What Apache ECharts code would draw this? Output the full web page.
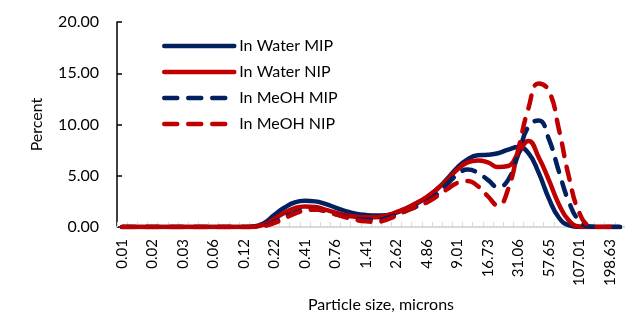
<!DOCTYPE html>
<html>
<head>
<meta charset="utf-8">
<script src="https://cdn.jsdelivr.net/npm/echarts@6/dist/echarts.min.js"></script>
<style>
  html, body { margin: 0; padding: 0; background: #fff; }
  #chart { width: 625px; height: 313px; }
</style>
</head>
<body>
<div id="chart"></div>
<script>
// particle size bins (microns)
const sizes = ['0.01','0.01','0.02','0.02','0.02','0.03','0.03','0.04','0.05','0.06',
  '0.08','0.10','0.12','0.15','0.18','0.22','0.27','0.33','0.41','0.50',
  '0.62','0.76','0.93','1.15','1.41','1.73','2.13','2.62','3.21','3.95',
  '4.86','5.97','7.34','9.01','11.08','13.61','16.73','20.56','25.27','31.06',
  '38.17','46.91','57.65','70.85','87.07','107.01','131.51','161.62','198.63','244.11'];

const waterMIP = [0,0,0,0,0,0,0,0,0,0,0,0,0,
  0.05,0.4,1.2,1.9,2.4,2.55,2.5,2.25,1.9,1.55,1.3,1.17,1.12,1.15,1.4,1.8,2.3,
  2.9,3.7,4.7,5.8,6.6,7.0,7.05,7.2,7.55,7.8,7.2,5.3,2.8,0.9,0.15,0,0,0,0,0];
const waterNIP = [0,0,0,0,0,0,0,0,0,0,0,0,0,
  0.03,0.25,0.8,1.4,1.85,2.0,1.95,1.7,1.4,1.15,1.0,0.95,0.95,1.1,1.45,1.85,2.35,
  2.95,3.7,4.6,5.6,6.3,6.5,6.3,5.85,5.95,7.2,8.4,6.8,4.6,2.2,0.6,0.05,0,0,0,0];
const meohMIP = [0,0,0,0,0,0,0,0,0,0,0,0,0,
  0.02,0.15,0.5,1.0,1.4,1.65,1.7,1.55,1.25,1.0,0.8,0.7,0.7,0.85,1.2,1.6,2.0,
  2.5,3.2,4.2,5.1,5.6,5.3,4.6,3.9,4.6,7.1,9.8,10.4,8.6,5.4,2.4,0.6,0.05,0,0,0];
const meohNIP = [0,0,0,0,0,0,0,0,0,0,0,0,0,
  0.02,0.1,0.4,0.85,1.3,1.6,1.7,1.55,1.25,0.95,0.7,0.55,0.5,0.7,1.1,1.6,2.0,
  2.4,3.0,3.7,4.3,4.5,4.0,3.0,2.1,3.7,7.6,11.6,14.0,13.3,9.5,4.8,1.4,0.15,0,0,0];

const yTicks = [0, 5, 10, 15, 20];

const navy = '#002060';
const red = '#C00000';
const font = 'Lato, "Open Sans", sans-serif';

function makeSeries(name, data, color, dashed) {
  return {
    name: name,
    type: 'line',
    data: data,
    smooth: true,
    symbol: 'none',
    lineStyle: {
      color: color,
      width: 4.5,
      cap: 'round',
      type: dashed ? [13, 11] : 'solid'
    },
    itemStyle: { color: color }
  };
}

const chart = echarts.init(document.getElementById('chart'), null, { renderer: 'canvas' });

const option = {
  animation: false,
  textStyle: { fontFamily: font },
  grid: { left: 117, right: 0, top: 22, bottom: 86, containLabel: false, outerBoundsMode: 'none' },
  legend: {
    orient: 'vertical',
    left: 162,
    top: 36,
    padding: 0,
    itemWidth: 70,
    itemHeight: 20,
    itemGap: 6,
    itemStyle: { opacity: 0 },   // hide the marker, keep the line
    lineStyle: { width: 4.5, cap: 'round' },
    textStyle: { fontSize: 16, color: '#000', fontFamily: font, lineHeight: 20 },
    data: ['In Water MIP', 'In Water NIP', 'In MeOH MIP', 'In MeOH NIP']
  },
  xAxis: {
    type: 'category',
    data: sizes,
    boundaryGap: true,
    name: 'Particle size, microns',
    nameLocation: 'middle',
    nameGap: 70,
    nameTextStyle: { fontSize: 16, color: '#000', padding: [0, 0, 0, 20] },
    axisLine: { lineStyle: { color: '#d9d9d9', width: 2 } },
    axisTick: { show: true, inside: true, interval: 0, length: 5, lineStyle: { color: '#d9d9d9' } },
    axisLabel: { interval: 2, rotate: 90, fontSize: 15, color: '#000', margin: 12 },
    splitLine: { show: false }
  },
  yAxis: {
    type: 'value',
    min: yTicks[0],
    max: yTicks[yTicks.length - 1],
    interval: 5,
    name: 'Percent',
    nameLocation: 'middle',
    nameGap: 72,
    nameTextStyle: { fontSize: 16, color: '#000' },
    axisLine: { show: true, lineStyle: { color: '#000', width: 1.5 } },
    axisTick: { show: true, inside: true, length: 5, lineStyle: { color: '#000', width: 1.5 } },
    axisLabel: { fontSize: 16, color: '#000', margin: 18, formatter: v => v.toFixed(2) },
    splitLine: { show: false }
  },
  series: [
    makeSeries('In Water MIP', waterMIP, navy, false),
    makeSeries('In Water NIP', waterNIP, red, false),
    makeSeries('In MeOH MIP', meohMIP, navy, true),
    makeSeries('In MeOH NIP', meohNIP, red, true)
  ]
};

chart.setOption(option);
</script>
</body>
</html>
